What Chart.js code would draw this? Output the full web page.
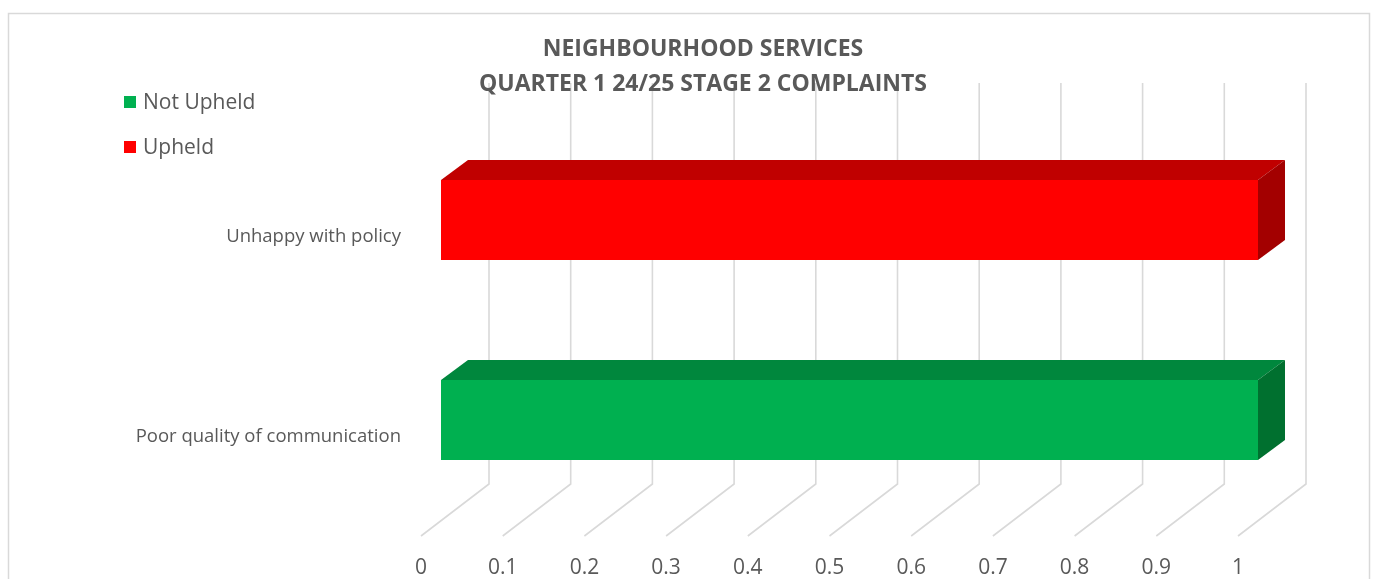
<!DOCTYPE html>
<html>
<head>
<meta charset="utf-8">
<script src="https://cdn.jsdelivr.net/npm/chart.js@4.4.1/dist/chart.umd.min.js"></script>
<style>
  html,body{margin:0;padding:0;background:#fff;}
  #wrap{width:1375px;height:579px;position:relative;}
</style>
</head>
<body>
<div id="wrap"><canvas id="chart" width="1375" height="579"></canvas></div>
<script>
// data
var categories=['Unhappy with policy','Poor quality of communication'];
var notUpheld=[0,1];
var upheld=[1,0];
var tickValues=[0,0.1,0.2,0.3,0.4,0.5,0.6,0.7,0.8,0.9,1];

var faceColours={
    'Not Upheld':{front:'#00B050',top:'#00873D',side:'#00702F'},
    'Upheld':{front:'#FF0000',top:'#C00000',side:'#A30000'}
};
var textcol='#595959';
var gridcol='#d9d9d9';
// 3d offsets (floor depth and bar position inside it)
var floordx=68, floordy=-52;
var barshiftx=20, barshifty=-17;
var bardx=27, bardy=-20;

var wallplugin={
    id:'wall',
    afterLayout:function(chart){
        // let the long category labels run into the left padding
        chart.scales.y.left=0;
    },
    beforeDraw:function(chart){
        var ctx=chart.ctx, xs=chart.scales.x, area=chart.chartArea;
        ctx.save();
        ctx.strokeStyle=gridcol;
        ctx.lineWidth=1.6;
        tickValues.forEach(function(v){
            var x=xs.getPixelForValue(v);
            var y=area.bottom-1;
            ctx.beginPath();
            ctx.moveTo(x,y);
            ctx.lineTo(x+floordx,y+floordy);
            ctx.lineTo(x+floordx,83);
            ctx.stroke();
        });
        ctx.restore();
    },
    beforeDatasetsDraw:function(chart){
        chart.ctx.save();
        chart.ctx.translate(barshiftx,barshifty);
    },
    afterDatasetsDraw:function(chart){
        var ctx=chart.ctx;
        ctx.restore();
        chart.data.datasets.forEach(function(ds,i){
            var meta=chart.getDatasetMeta(i);
            var fc=faceColours[ds.label];
            meta.data.forEach(function(bar){
                var p=bar.getProps(['x','y','base','height'],true);
                var x0=Math.min(p.base,p.x)+barshiftx, x1=Math.max(p.base,p.x)+barshiftx;
                if(x1-x0<1) return;
                var top=p.y-p.height/2+barshifty, bot=p.y+p.height/2+barshifty;
                ctx.fillStyle=fc.top;
                ctx.beginPath();
                ctx.moveTo(x0,top);ctx.lineTo(x1,top);
                ctx.lineTo(x1+bardx,top+bardy);ctx.lineTo(x0+bardx,top+bardy);
                ctx.closePath();ctx.fill();
                ctx.fillStyle=fc.side;
                ctx.beginPath();
                ctx.moveTo(x1,top);ctx.lineTo(x1+bardx,top+bardy);
                ctx.lineTo(x1+bardx,bot+bardy);ctx.lineTo(x1,bot);
                ctx.closePath();ctx.fill();
            });
        });
    },
    afterDraw:function(chart){
        var ctx=chart.ctx;
        ctx.save();
        // legend, vertical, top left
        ctx.font='21px "Open Sans"';
        ctx.textBaseline='middle';
        var ly=[102,147];
        chart.data.datasets.forEach(function(ds,i){
            ctx.fillStyle=ds.backgroundColor;
            ctx.fillRect(124,ly[i]-6,12,12);
            ctx.fillStyle=textcol;
            ctx.fillText(ds.label,143,ly[i]+1);
        });
        // outer frame
        ctx.strokeStyle=gridcol;
        ctx.lineWidth=1.5;
        ctx.strokeRect(8.5,13.5,1361,620);
        ctx.restore();
    }
};

new Chart(document.getElementById('chart'),{
    type:'bar',
    data:{
        labels:categories,
        datasets:[
            {label:'Not Upheld',data:notUpheld,backgroundColor:'#00B050',barPercentage:0.4,categoryPercentage:1},
            {label:'Upheld',data:upheld,backgroundColor:'#FF0000',barPercentage:0.4,categoryPercentage:1}
        ]
    },
    options:{
        indexAxis:'y',
        responsive:false,
        animation:false,
        layout:{padding:{left:168,right:137,top:0,bottom:0}},
        plugins:{
            legend:{display:false},
            tooltip:{enabled:false},
            title:{
                display:true,
                text:['NEIGHBOURHOOD SERVICES','QUARTER 1 24/25 STAGE 2 COMPLAINTS'],
                color:textcol,
                font:{family:'"Open Sans"',size:23,weight:'bold',lineHeight:1.52},
                padding:{top:32,bottom:35}
            }
        },
        scales:{
            x:{
                min:0,max:1,
                grid:{display:false,drawTicks:false},
                border:{display:false},
                ticks:{stepSize:0.1,color:textcol,font:{family:'"Open Sans"',size:21},padding:18,
                    callback:function(v){return Math.round(v*10)/10;}},
                afterFit:function(s){s.height=42;}
            },
            y:{
                stacked:true,
                grid:{display:false,drawTicks:false},
                border:{display:false},
                ticks:{color:textcol,font:{family:'"Open Sans"',size:18.5},padding:20},
                afterFit:function(s){s.width=253;}
            }
        }
    },
    plugins:[wallplugin]
});
</script>
</body>
</html>
